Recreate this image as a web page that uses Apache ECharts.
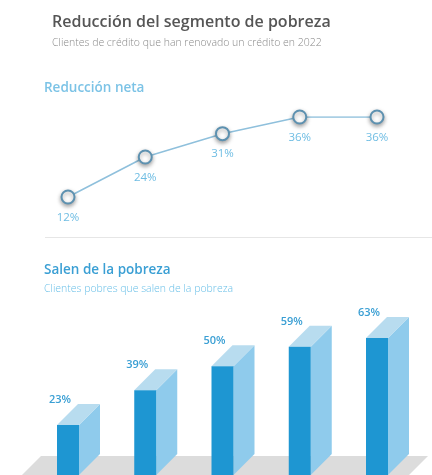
<!DOCTYPE html>
<html>
<head>
<meta charset="utf-8">
<script src="https://cdn.jsdelivr.net/npm/echarts@6/dist/echarts.min.js"></script>
<style>
  html, body { margin: 0; padding: 0; background: #ffffff; }
  #chart { width: 432px; height: 475px; }
</style>
</head>
<body>
<div id="chart"></div>
<script>
// Periods (not labelled on the chart)
const periods = ['P1', 'P2', 'P3', 'P4', 'P5'];
// Reducción neta (%)
const netReduction = [12, 24, 31, 36, 36];
// Clientes pobres que salen de la pobreza (%)
const exitPoverty = [23, 39, 50, 59, 63];

const FONT = '"Open Sans", Roboto, sans-serif';

const chart = echarts.init(document.getElementById('chart'), null, { renderer: 'canvas' });

function renderBar3D(params, api) {
  const v = api.value(1);
  const topPt = api.coord([api.value(0), v]);
  const basePt = api.coord([api.value(0), 0]);
  const w = 22, d = 21;
  const x0 = topPt[0] - w / 2;
  const y = topPt[1];
  const yb = basePt[1];
  return {
    type: 'group',
    children: [
      { // side face
        type: 'polygon',
        shape: { points: [[x0 + w, y], [x0 + w + d, y - d], [x0 + w + d, yb - d], [x0 + w, yb]] },
        style: { fill: '#8fcbec' }
      },
      { // top face
        type: 'polygon',
        shape: { points: [[x0, y], [x0 + w, y], [x0 + w + d, y - d], [x0 + d, y - d]] },
        style: { fill: '#b8dcef' }
      },
      { // front face
        type: 'rect',
        shape: { x: x0, y: y, width: w, height: yb - y },
        style: { fill: '#1e96d2' }
      },
      {
        type: 'text',
        x: x0 + 3,
        y: y - 25,
        style: {
          text: v + '%',
          fill: '#3a9fd4',
          font: '600 11px ' + FONT,
          textAlign: 'center',
          textVerticalAlign: 'middle'
        }
      }
    ]
  };
}

function heading(text, x, y, font, color) {
  return {
    type: 'text', x: x, y: y, z: 10,
    style: { text: text, fill: color, font: font, textAlign: 'left', textVerticalAlign: 'middle' }
  };
}

chart.setOption({
  backgroundColor: '#ffffff',
  animation: false,
  grid: [
    { left: 68, right: 55, top: 117, height: 120 },
    { left: 68, right: 55, top: 257.6, height: 220 }
  ],
  xAxis: [
    { type: 'category', gridIndex: 0, data: periods, boundaryGap: false, show: false },
    { type: 'category', gridIndex: 1, data: periods, boundaryGap: false, show: false }
  ],
  yAxis: [
    { type: 'value', gridIndex: 0, min: 0, max: 36, show: false },
    { type: 'value', gridIndex: 1, min: 0, max: 100, show: false }
  ],
  graphic: [
    heading('Reducción del segmento de pobreza', 52, 22, '600 16px ' + FONT, '#555555'),
    heading('Clientes de crédito que han renovado un crédito en 2022', 52, 43.5, '300 10.5px ' + FONT, '#8a8a8a'),
    heading('Reducción neta', 44, 88, '600 13.5px ' + FONT, '#7cc3e6'),
    {
      type: 'line', z: 1,
      shape: { x1: 45, y1: 237.5, x2: 432, y2: 237.5 },
      style: { stroke: '#e6e6e6', lineWidth: 1 }
    },
    heading('Salen de la pobreza', 44, 270.5, '600 13.5px ' + FONT, '#3a9fd4'),
    heading('Clientes pobres que salen de la pobreza', 44, 289, '300 10.5px ' + FONT, '#6bc0e8'),
    { // floor plane under the bars
      type: 'polygon', z: 0,
      shape: { points: [[41, 456], [428, 456], [406, 478], [19, 478]] },
      style: { fill: '#dcdcdc' }
    }
  ],
  series: [
    {
      type: 'line',
      xAxisIndex: 0,
      yAxisIndex: 0,
      data: netReduction,
      symbol: 'circle',
      symbolSize: 13,
      lineStyle: { color: '#8fc0dc', width: 1.5 },
      itemStyle: {
        color: '#ffffff',
        borderColor: '#5d91b0',
        borderWidth: 2,
        shadowBlur: 4,
        shadowColor: 'rgba(0,0,0,0.35)',
        shadowOffsetY: 2
      },
      label: {
        show: true,
        position: 'bottom',
        distance: 7,
        formatter: '{c}%',
        color: '#6fbde3',
        fontSize: 11.5,
        fontFamily: FONT
      },
      z: 5
    },
    {
      type: 'custom',
      xAxisIndex: 1,
      yAxisIndex: 1,
      data: exitPoverty.map((v, i) => [i, v]),
      encode: { x: 0, y: 1 },
      renderItem: renderBar3D,
      z: 5
    }
  ]
});
</script>
</body>
</html>
